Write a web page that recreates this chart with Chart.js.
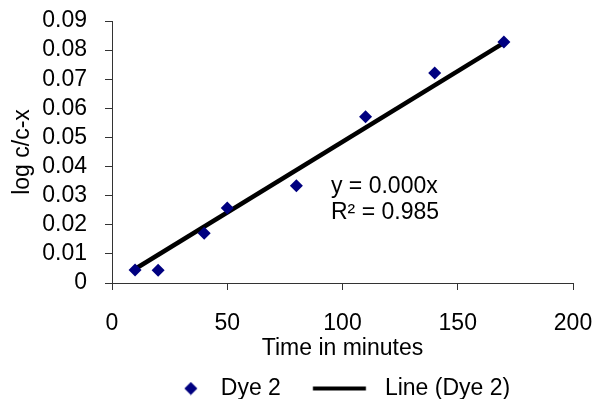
<!DOCTYPE html>
<html>
<head>
<meta charset="utf-8">
<script src="https://cdn.jsdelivr.net/npm/chart.js@4"></script>
<style>
  html, body { margin: 0; padding: 0; background: #fff; }
  #wrap { width: 593px; height: 399px; }
</style>
</head>
<body>
<div id="wrap"><canvas id="dyeChart" width="593" height="399"></canvas></div>
<script>
// data
const timeMinutes = [10, 20, 40, 50, 80, 110, 140, 170];
const logValues = [0.0045, 0.0044, 0.0171, 0.0258, 0.0334, 0.0571, 0.0721, 0.0828];
const trendX = [10, 170];
const trendY = [0.0048, 0.0825];
const trendText = ["y = 0.000x", "R² = 0.985"];
const seriesNames = ["Dye 2", "Line (Dye 2)"];

const FONT = "'Liberation Sans', Arial, sans-serif";
const NAVY = "#000080";
const AXIS = "#333";

// legend marks as small canvases
function makeDiamond() {
  const c = document.createElement("canvas");
  c.width = 74; c.height = 14;
  const g = c.getContext("2d");
  const cx = 37 + 27.75, cy = 7, r = 6.5;
  g.fillStyle = NAVY;
  g.beginPath();
  g.moveTo(cx, cy - r); g.lineTo(cx + r, cy); g.lineTo(cx, cy + r); g.lineTo(cx - r, cy);
  g.closePath(); g.fill();
  return c;
}
function makeLine() {
  const c = document.createElement("canvas");
  c.width = 80; c.height = 10;
  const g = c.getContext("2d");
  g.fillStyle = "#000";
  g.fillRect(40 - 14.25, 3, 53, 4);
  return c;
}
const legendMarks = [makeDiamond(), makeLine()];

const pts = timeMinutes.map((t, i) => ({ x: t, y: logValues[i] }));
const trendPts = trendX.map((t, i) => ({ x: t, y: trendY[i] }));

const trendLabel = {
  id: "trendLabel",
  afterDatasetsDraw(chart) {
    const { ctx, scales } = chart;
    ctx.save();
    ctx.font = "23px " + FONT;
    ctx.fillStyle = "#000";
    ctx.textBaseline = "middle";
    ctx.textAlign = "left";
    const x = scales.x.getPixelForValue(95);
    ctx.fillText(trendText[0], x, scales.y.getPixelForValue(0.0331));
    ctx.fillText(trendText[1], x, scales.y.getPixelForValue(0.0242));
    ctx.restore();
  }
};

const ctx = document.getElementById("dyeChart").getContext("2d");
const dyeChart = new Chart(ctx, {
  type: "scatter",
  data: {
    datasets: [
      {
        label: seriesNames[0],
        data: pts,
        pointStyle: "rectRot",
        pointRadius: 6.5,
        backgroundColor: NAVY,
        borderColor: NAVY,
        borderWidth: 0,
        order: 0
      },
      {
        label: seriesNames[1],
        type: "line",
        data: trendPts,
        borderColor: "#000",
        borderWidth: 4.5,
        pointRadius: 0,
        fill: false,
        order: 1
      }
    ]
  },
  options: {
    responsive: false,
    animation: false,
    devicePixelRatio: 1,
    layout: { padding: { left: 34, right: 0, top: 21, bottom: -11 } },
    plugins: {
      tooltip: { enabled: false },
      legend: {
        position: "bottom",
        labels: {
          usePointStyle: true,
          pointStyleWidth: 92.5,
          padding: 0,
          color: "#000",
          font: { family: FONT, size: 23 },
          generateLabels: () => seriesNames.map((name, i) => ({
            text: name,
            pointStyle: legendMarks[i],
            fillStyle: "#000",
            strokeStyle: "#000",
            lineWidth: 0,
            hidden: false,
            datasetIndex: i
          }))
        }
      }
    },
    scales: {
      x: {
        type: "linear",
        min: 0,
        max: 200,
        afterFit: (s) => { s.height = 94; s.paddingRight = 20; },
        ticks: { stepSize: 50, padding: 20, color: "#000", font: { family: FONT, size: 23 } },
        grid: { drawOnChartArea: false, drawTicks: true, tickLength: 7, color: AXIS, tickWidth: 1 },
        border: { color: AXIS, width: 1 },
        title: { display: true, text: "Time in minutes", color: "#000", font: { family: FONT, size: 23 }, padding: { top: 0, bottom: 15 } }
      },
      y: {
        min: 0,
        max: 0.09,
        afterFit: (s) => { s.width = 78; s.paddingTop = 0; s.paddingBottom = 0; },
        ticks: {
          stepSize: 0.01,
          autoSkip: false,
          padding: 18,
          color: "#000",
          font: { family: FONT, size: 23 },
          callback: (v) => String(+v.toFixed(2))
        },
        grid: { drawOnChartArea: false, drawTicks: true, tickLength: 7, color: AXIS, tickWidth: 1 },
        border: { color: AXIS, width: 1 },
        title: { display: true, text: "log c/c-x", color: "#000", font: { family: FONT, size: 23 }, padding: { top: -25, bottom: 0 } }
      }
    }
  },
  plugins: [trendLabel]
});
</script>
</body>
</html>
